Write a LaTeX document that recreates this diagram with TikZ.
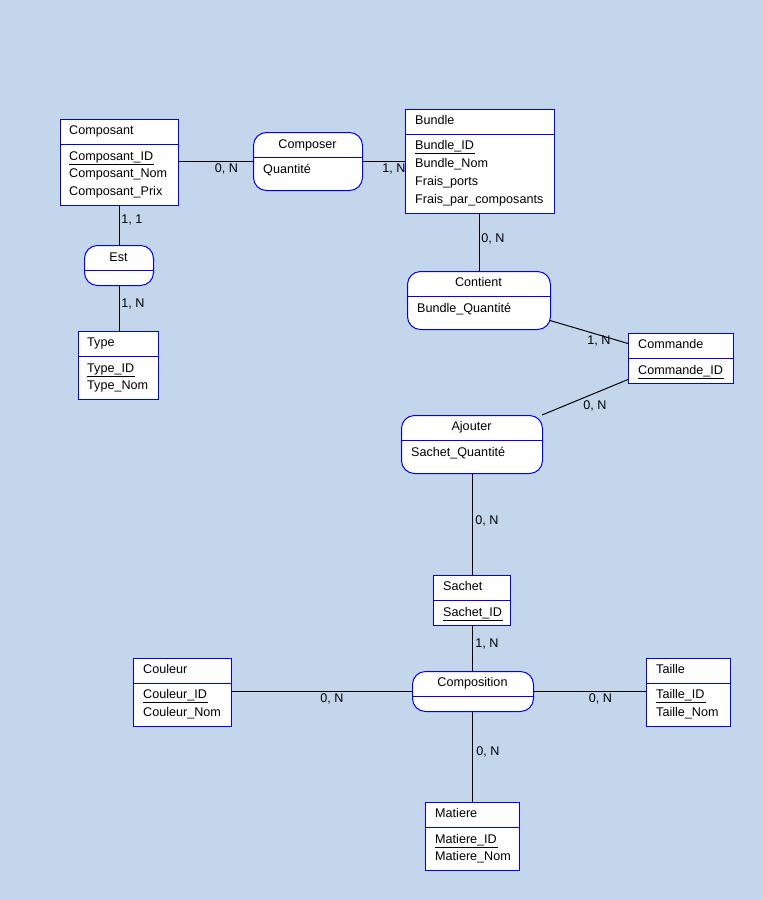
\documentclass[tikz,border=0pt]{standalone}
\usepackage{fontspec}
\setmainfont{Liberation Sans}
\usetikzlibrary{calc}
\definecolor{bgblue}{RGB}{196,214,236}
\definecolor{entblue}{RGB}{0,0,255}
\tikzset{
  ent/.style={draw=entblue, fill=white, line width=1pt, inner sep=0pt, anchor=north west},
  rel/.style={ent, rounded corners=13pt},
  txt/.style={inner sep=0pt, anchor=base west, font=\fontsize{12.6}{14}\selectfont},
  ctxt/.style={inner sep=0pt, anchor=base, font=\fontsize{12.6}{14}\selectfont},
  card/.style={inner sep=0pt, anchor=center, font=\fontsize{12.6}{14}\selectfont},
  conn/.style={draw=black, line width=1pt},
  divline/.style={draw=entblue, line width=1pt},
  uline/.style={draw=black, line width=1pt}
}
% box: style, name, x1, y1, x2, y2
\newcommand{\erbox}[6]{%
  \node[#1, minimum width=#5pt-#3pt, minimum height=#6pt-#4pt] (#2) at (#3,#4) {};
  \draw[divline] ($(#2.north west)+(0,25)$) -- ($(#2.north east)+(0,25)$);
}
\newcommand{\ul}[1]{\draw[uline] ($(#1.base west)+(0,4)$) -- ($(#1.base east)+(1,4)$);}
\begin{document}
\begin{tikzpicture}[x=1pt,y=-1pt]
\fill[bgblue] (0,0) rectangle (763,900);
\useasboundingbox (0,0) rectangle (763,900);

% ---- boxes
\erbox{ent}{composant}{60}{119}{178}{205}
\erbox{rel}{composer}{253}{132}{362}{190}
\erbox{ent}{bundle}{405}{109}{554}{213}
\erbox{rel}{est}{84}{245}{153}{285}
\erbox{ent}{type}{78}{331}{158}{399}
\erbox{rel}{contient}{407}{271}{550}{329}
\erbox{ent}{commande}{628}{333}{733}{383}
\erbox{rel}{ajouter}{401}{415}{542}{473}
\erbox{ent}{sachet}{433}{575}{510}{625}
\erbox{rel}{composition}{412}{671}{533}{711}
\erbox{ent}{couleur}{133}{658}{231}{726}
\erbox{ent}{taille}{646}{658}{730}{726}
\erbox{ent}{matiere}{425}{802}{519}{870}

% ---- texts
\node[txt] (tcomposant) at (69,134.5) {Composant};
\node[txt] (acompid) at (69,160.5) {Composant\_ID};
\node[txt] (acompnom) at (69,177.5) {Composant\_Nom};
\node[txt] (acompprix) at (69,195.5) {Composant\_Prix};
\ul{acompid}

\node[ctxt] (tcomposer) at (307.5,148.5) {Composer};
\node[txt] (aquant) at (263,173.5) {Quantité};

\node[txt] (tbundle) at (415,124.5) {Bundle};
\node[txt] (abid) at (415,149.5) {Bundle\_ID};
\node[txt] (abnom) at (415,167.5) {Bundle\_Nom};
\node[txt] (abfp) at (415,185.5) {Frais\_ports};
\node[txt] (abfpc) at (415,203.5) {Frais\_par\_composants};
\ul{abid}

\node[ctxt] (test) at (118.5,261.5) {Est};

\node[txt] (ttype) at (87,346.5) {Type};
\node[txt] (atid) at (87,372.5) {Type\_ID};
\node[txt] (atnom) at (87,389.5) {Type\_Nom};
\ul{atid}

\node[ctxt] (tcontient) at (478.5,286.5) {Contient};
\node[txt] (abq) at (417,312.5) {Bundle\_Quantité};

\node[txt] (tcommande) at (638,348.5) {Commande};
\node[txt] (acid) at (638,374.5) {Commande\_ID};
\ul{acid}

\node[ctxt] (tajouter) at (471.5,430.5) {Ajouter};
\node[txt] (asq) at (411,456.5) {Sachet\_Quantité};

\node[txt] (tsachet) at (443,590.5) {Sachet};
\node[txt] (asid) at (443,616.5) {Sachet\_ID};
\ul{asid}

\node[ctxt] (tcomposition) at (472.5,686.5) {Composition};

\node[txt] (tcouleur) at (143,673.5) {Couleur};
\node[txt] (acoid) at (143,698.5) {Couleur\_ID};
\node[txt] (aconom) at (143,716.5) {Couleur\_Nom};
\ul{acoid}

\node[txt] (ttaille) at (656,673.5) {Taille};
\node[txt] (atiid) at (656,698.5) {Taille\_ID};
\node[txt] (atinom) at (656,716.5) {Taille\_Nom};
\ul{atiid}

\node[txt] (tmatiere) at (435,817.5) {Matiere};
\node[txt] (amid) at (435,843.5) {Matiere\_ID};
\node[txt] (amnom) at (435,860.5) {Matiere\_Nom};
\ul{amid}

% ---- connectors
\draw[conn] (composer.west) -- (composer.west -| composant.east);
\draw[conn] (composer.east) -- (composer.east -| bundle.west);
\draw[conn] (est.north) -- (est.north |- composant.south);
\draw[conn] (est.south) -- (est.south |- type.north);
\draw[conn] (contient.north) -- (contient.north |- bundle.south);
\draw[conn] ($(contient.east)+(-1,20)$) -- ($(commande.west)+(0,-15)$);
\draw[conn] ($(ajouter.north east)+(-1,0)$) -- ($(commande.west)+(0,21)$);
\draw[conn] (sachet.north) -- (sachet.north |- ajouter.south);
\draw[conn] (sachet.south) -- (sachet.south |- composition.north);
\draw[conn] (composition.west) -- (composition.west -| couleur.east);
\draw[conn] (composition.east) -- (composition.east -| taille.west);
\draw[conn] (matiere.north) -- (matiere.north |- composition.south);

% ---- cardinalities
\node[card] (c1) at (226.5,169) {0, N};
\node[card] (c2) at (394,169) {1, N};
\node[card] (c3) at (132,219.5) {1, 1};
\node[card] (c4) at (133,303.5) {1, N};
\node[card] (c5) at (493,238.5) {0, N};
\node[card] (c6) at (599,341) {1, N};
\node[card] (c7) at (595,405.5) {0, N};
\node[card] (c8) at (487,520.5) {0, N};
\node[card] (c9) at (487,644) {1, N};
\node[card] (c10) at (332,699) {0, N};
\node[card] (c11) at (600.5,699) {0, N};
\node[card] (c12) at (488,751.5) {0, N};
\end{tikzpicture}
\end{document}
